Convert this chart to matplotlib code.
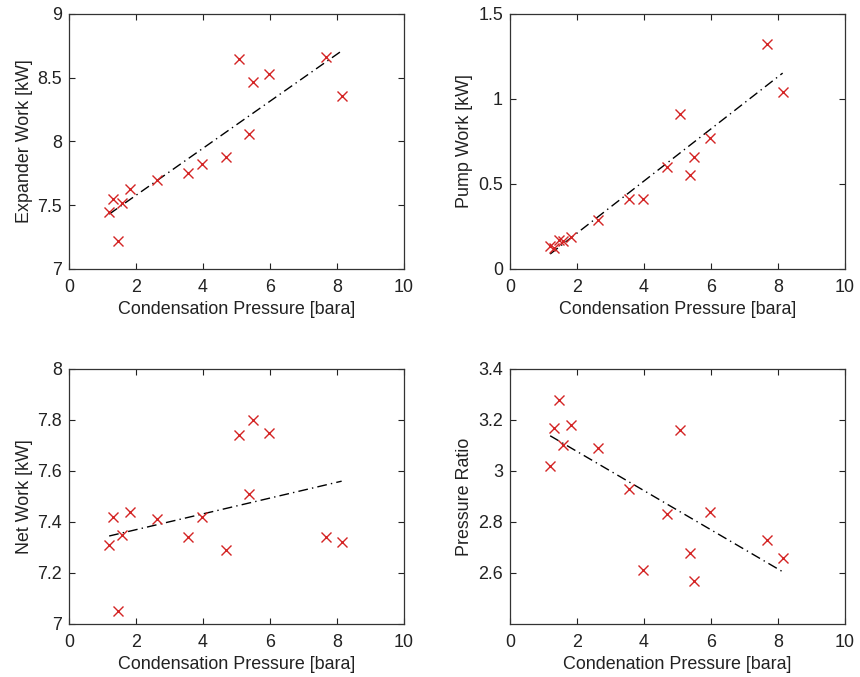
import matplotlib
matplotlib.use("Agg")
import matplotlib.pyplot as plt

plt.rcParams['font.family'] = ['Liberation Sans', 'DejaVu Sans']

# condensation pressure for each test run [bara]
pressure = [1.20, 1.32, 1.45, 1.59, 1.82, 2.63, 3.56, 3.97, 4.69,
            5.07, 5.38, 5.48, 5.96, 7.67, 8.14]

expander_work = [7.45, 7.55, 7.22, 7.52, 7.63, 7.70, 7.75, 7.82, 7.88,
                 8.65, 8.06, 8.47, 8.53, 8.66, 8.36]
pump_work = [0.137, 0.125, 0.168, 0.164, 0.188, 0.288, 0.409, 0.409, 0.597,
             0.910, 0.550, 0.656, 0.768, 1.322, 1.042]
net_work = [7.31, 7.42, 7.05, 7.35, 7.44, 7.41, 7.34, 7.42, 7.29,
            7.74, 7.51, 7.80, 7.75, 7.34, 7.32]
pressure_ratio = [3.02, 3.17, 3.28, 3.10, 3.18, 3.09, 2.93, 2.61, 2.83,
                  3.16, 2.68, 2.57, 2.84, 2.73, 2.66]

# trend line end points
trend_x = [1.20, 8.14]
expander_trend = [7.43, 8.71]
pump_trend = [0.088, 1.152]
net_trend = [7.345, 7.56]
ratio_trend = [3.138, 2.605]

x_ticks = [0, 2, 4, 6, 8, 10]

panels = [
    ([0.0802, 0.6027, 0.3895, 0.3767], expander_work, expander_trend,
     (7, 9), [7, 7.5, 8, 8.5, 9], ['7', '7.5', '8', '8.5', '9'],
     'Expander Work [kW]', 'Condensation Pressure [bara]'),
    ([0.593, 0.6027, 0.3895, 0.3767], pump_work, pump_trend,
     (0, 1.5), [0, 0.5, 1, 1.5], ['0', '0.5', '1', '1.5'],
     'Pump Work [kW]', 'Condensation Pressure [bara]'),
    ([0.0802, 0.0783, 0.3895, 0.3767], net_work, net_trend,
     (7, 8), [7, 7.2, 7.4, 7.6, 7.8, 8], ['7', '7.2', '7.4', '7.6', '7.8', '8'],
     'Net Work [kW]', 'Condensation Pressure [bara]'),
    ([0.593, 0.0783, 0.3895, 0.3767], pressure_ratio, ratio_trend,
     (2.4, 3.4), [2.6, 2.8, 3, 3.2, 3.4], ['2.6', '2.8', '3', '3.2', '3.4'],
     'Pressure Ratio', 'Condenation Pressure [bara]'),
]

fig = plt.figure(figsize=(8.6, 6.77), dpi=100)
fs = 12.9
for rect, yvals, trend, ylim, yt, ytl, ylabel, xlabel in panels:
    ax = fig.add_axes(rect)
    ax.plot(trend_x, trend, color='black', lw=1.0, dashes=(7, 3, 1, 3))
    ax.plot(pressure, yvals, linestyle='none', marker='x', color='#d42424',
            markersize=6.5, markeredgewidth=1.0)
    ax.set_xlim(0, 10)
    ax.set_ylim(*ylim)
    ax.set_xticks(x_ticks)
    ax.set_xticklabels([str(t) for t in x_ticks])
    ax.set_yticks(yt)
    ax.set_yticklabels(ytl)
    ax.tick_params(direction='in', length=4, width=0.8, top=True, right=True,
                   labelsize=fs, colors='#222222')
    ax.tick_params(axis='x', pad=7)
    ax.tick_params(axis='y', pad=5)
    for sp in ax.spines.values():
        sp.set_color('#333333')
        sp.set_linewidth(0.9)
    ax.set_xlabel(xlabel, fontsize=fs, color='#222222', labelpad=4)
    ax.set_ylabel(ylabel, fontsize=fs, color='#222222', labelpad=3.5)

fig.savefig('out.png', dpi=100)
